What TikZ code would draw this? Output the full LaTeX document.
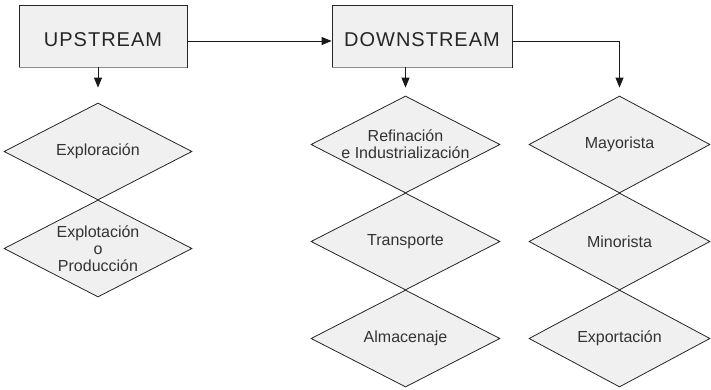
\documentclass[tikz,border=0pt]{standalone}
\usepackage{fontspec}
\setmainfont{Liberation Sans}
\newfontfamily\headfont[LetterSpace=5]{Liberation Sans}
\usetikzlibrary{shapes.geometric,arrows.meta}

\tikzset{
  stage/.style={draw=black!85, fill=black!6, minimum width=#1, minimum height=62pt,
    inner sep=0pt, text height=20.5pt, text depth=0pt,
    font=\headfont\fontsize{20}{23}\selectfont, text=black!85},
  phase/.style={diamond, draw=black!85, fill=black!6, aspect=1.95, minimum width=#1,
    minimum height=97pt, inner sep=0pt, align=center,
    font=\fontsize{16}{17}\selectfont, text=black!80},
  phase/.default=188pt,
  flow/.style={-{Triangle[length=10pt,width=8pt]}, draw=black!90, line width=0.9pt},
  shade/.style={black!45, line width=1.6pt}
}

\begin{document}
\begin{tikzpicture}[x=1pt,y=-1pt, line width=0.8pt]
\useasboundingbox (0,0) rectangle (711,390);

% Upstream
\node[stage=168pt] (up) at (103,36) {UPSTREAM};
\draw[shade] (up.south west) -- (up.south east);
\node[phase] (explor) at (98,151.5) {Exploración};
\node[phase] (explot) at (98,248.5) {Explotación\\o\\Producción};

% Downstream
\node[stage=180pt] (down) at (422,36) {DOWNSTREAM};
\draw[shade] (down.south west) -- (down.south east);
\node[phase=189pt] (refin) at (405.5,144.5) {Refinación\\e Industrialización};
\node[phase=189pt] (transp) at (405.5,241.5) {Transporte};
\node[phase=189pt] (almac) at (405.5,338.5) {Almacenaje};

% Comercializacion
\node[phase=181pt] (mayor) at (619.5,144.5) {Mayorista};
\node[phase=181pt] (minor) at (619.5,241.5) {Minorista};
\node[phase=181pt] (export) at (619.5,338.5) {Exportación};

% Arrows
\draw[flow] ([yshift=-5pt]up.east) -- ([yshift=-5pt]down.west);
\draw[flow] (up.south -| explor.north) -- ([yshift=15pt]explor.north);
\draw[flow] (down.south -| refin.north) -- ([yshift=8pt]refin.north);
\draw[flow] ([yshift=-5pt]down.east) -| ([yshift=8pt]mayor.north);
\end{tikzpicture}
\end{document}
